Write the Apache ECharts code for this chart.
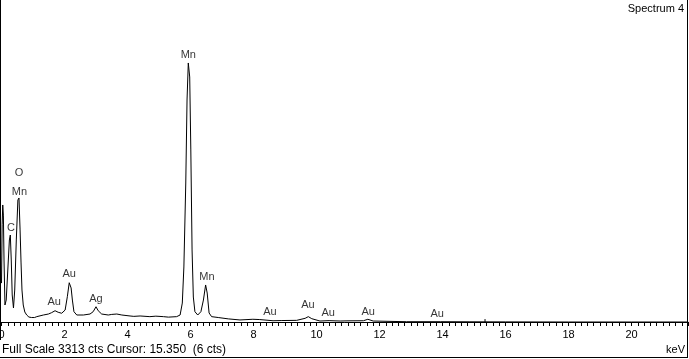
<!DOCTYPE html>
<html>
<head>
<meta charset="utf-8">
<script src="https://cdn.jsdelivr.net/npm/echarts@6/dist/echarts.min.js"></script>
<style>
html,body{margin:0;padding:0;background:#fff;}
#chart{width:689px;height:359px;}
</style>
</head>
<body>
<div id="chart"></div>
<script>
// Spectrum trace: energy (keV) and counts
const energies = [
  0.00, 0.02, 0.04, 0.06, 0.08, 0.11, 0.15, 0.20, 0.25, 0.28, 0.31, 0.34, 0.38,
  0.42, 0.47, 0.52, 0.555, 0.59, 0.62, 0.65, 0.69, 0.74, 0.80, 0.87, 0.95,
  1.05, 1.12, 1.33, 1.49, 1.59, 1.70, 1.80, 1.91, 2.02, 2.09, 2.15, 2.21, 2.25,
  2.30, 2.39, 2.60, 2.81, 2.91, 3.00, 3.07, 3.18, 3.39, 3.50, 3.66, 3.82, 4.08,
  4.20, 4.40, 4.71, 4.90, 5.14, 5.30, 5.56, 5.67, 5.74, 5.79, 5.85, 5.89, 5.93,
  5.975, 6.01, 6.05, 6.09, 6.14, 6.23, 6.33, 6.41, 6.48, 6.53, 6.59, 6.67, 6.88,
  7.20, 7.57, 7.98, 8.20, 8.62, 8.90, 9.37, 9.64, 9.74, 9.85, 10.11, 10.40,
  10.75, 11.00, 11.49, 11.63, 11.80, 12.86, 13.93, 14.87, 16.0, 18.0, 20.0, 21.8
];
const counts = [
  400, 1000, 1204, 1100, 638, 175, 226, 535, 844, 895, 638, 278, 144,
  329, 844, 1255, 1276, 947, 617, 329, 175, 103, 72, 51, 46,
  46, 55, 72, 82, 96, 116, 100, 90, 123, 260, 404, 350, 226,
  106, 72, 72, 82, 106, 157, 116, 82, 72, 78, 82, 72, 62,
  58, 62, 55, 60, 55, 50, 55, 72, 195, 566, 1430, 2284, 2665,
  2521, 1770, 741, 257, 106, 72, 106, 226, 381, 298, 93, 55, 46,
  32, 21, 28, 25, 13, 15, 17, 38, 55, 34, 10, 14,
  10, 12, 13, 28, 10, 3, 3, 2, 1, 0, 0, 0
];

// Element marker labels
const peakNames = ['Mn', 'O', 'Mn', 'C', 'Au', 'Au', 'Ag', 'Mn', 'Au', 'Au', 'Au', 'Au', 'Au'];
const peakEnergies = [5.93, 0.56, 0.57, 0.30, 1.67, 2.15, 3.00, 6.52, 8.52, 9.73, 10.37, 11.64, 13.83];
const peakLabelCounts = [2747, 1533, 1338, 967, 209, 494, 237, 466, 106, 175, 96, 106, 82];

// Axis tick labels
const tickValues = [0, 2, 4, 6, 8, 10, 12, 14, 16, 18, 20];

// Cursor marker
const cursorEnergy = 15.35;
const cursorHeight = 30;
const fullScale = 3313;

const font = '"Liberation Sans", Arial, sans-serif';

const chart = echarts.init(document.getElementById('chart'), null, {renderer: 'canvas'});
chart.setOption({
  animation: false,
  backgroundColor: '#ffffff',
  grid: {left: 1.5, right: 0.8, top: 0, bottom: 37, containLabel: false, outerBoundsMode: 'none'},
  xAxis: {
    type: 'value',
    min: 0,
    max: 21.8,
    interval: 2,
    axisLine: {show: true, onZero: false, lineStyle: {color: '#000', width: 1}},
    axisTick: {show: true, length: 4, lineStyle: {color: '#000', width: 1}},
    minorTick: {show: true, splitNumber: 10, length: 4, lineStyle: {color: '#000', width: 1}},
    splitLine: {show: false},
    axisLabel: {
      color: '#000', fontFamily: font, fontSize: 11, margin: 7,
      showMaxLabel: false,
      formatter: v => tickValues.indexOf(v) >= 0 ? String(v) : ''
    }
  },
  yAxis: {
    type: 'value', min: 0, max: fullScale, show: false,
    splitLine: {show: false}
  },
  series: [
    {
      type: 'line',
      data: energies.map((e, i) => [e, counts[i]]),
      showSymbol: false,
      symbol: 'none',
      lineStyle: {color: '#000', width: 1},
      silent: true,
      z: 3
    },
    {
      type: 'line',
      data: [[cursorEnergy, 0], [cursorEnergy, cursorHeight]],
      showSymbol: false,
      symbol: 'none',
      lineStyle: {color: '#000', width: 1},
      silent: true
    },
    {
      type: 'scatter',
      symbolSize: 0,
      data: peakEnergies.map((e, i) => ({value: [e, peakLabelCounts[i]], name: peakNames[i]})),
      label: {
        show: true, position: 'inside', formatter: p => p.name,
        color: '#000', fontFamily: font, fontSize: 11
      },
      silent: true,
      z: 4
    }
  ],
  graphic: [
    {type: 'line', shape: {x1: 0.5, y1: 0, x2: 0.5, y2: 340}, style: {stroke: '#000', lineWidth: 1}},
    {type: 'line', shape: {x1: 687.5, y1: 0, x2: 687.5, y2: 358}, style: {stroke: '#000', lineWidth: 1}},
    {type: 'line', shape: {x1: 0, y1: 357.5, x2: 688, y2: 357.5}, style: {stroke: '#000', lineWidth: 1}},
    {type: 'text', right: 5, top: 3, style: {text: 'Spectrum 4', fill: '#000', font: '11px ' + font}},
    {type: 'text', left: 2, top: 344, style: {text: 'Full Scale ' + fullScale + ' cts Cursor: 15.350  (6 cts)', fill: '#000', font: '12px ' + font}},
    {type: 'text', right: 4, top: 344, style: {text: 'keV', fill: '#000', font: '11px ' + font}}
  ]
});
</script>
</body>
</html>
